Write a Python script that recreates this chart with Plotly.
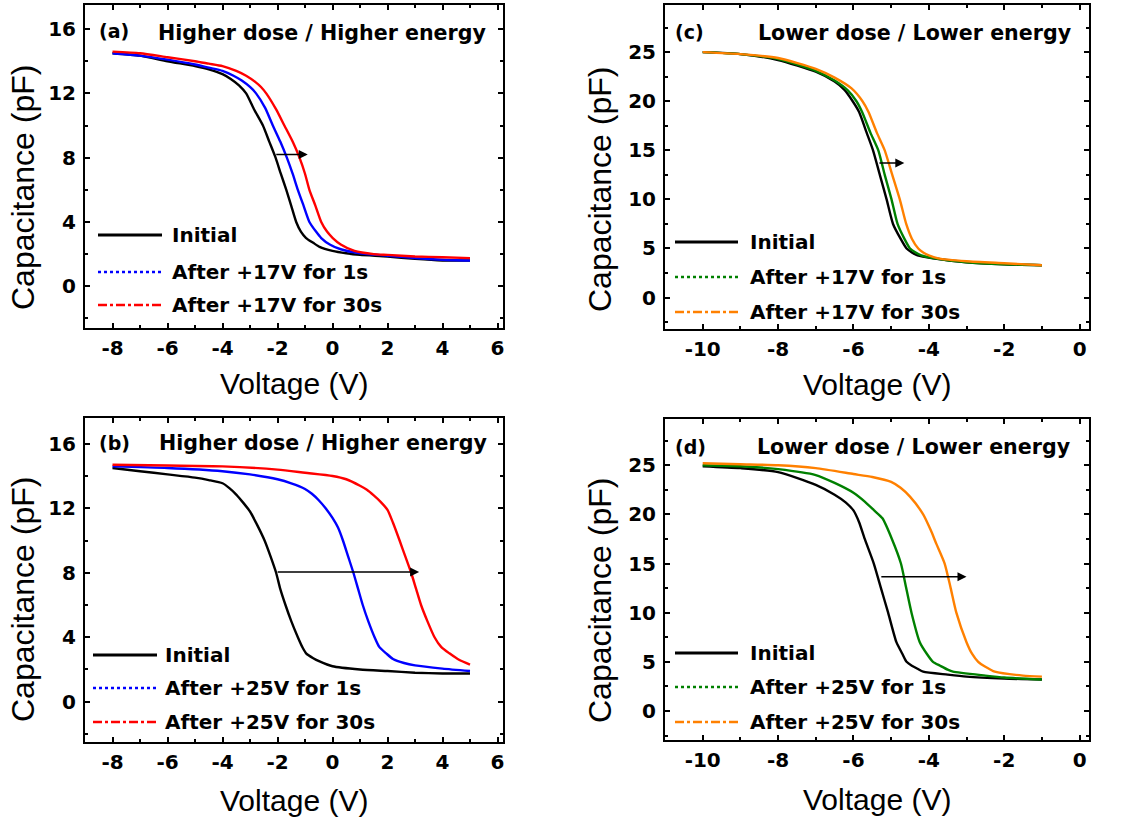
import plotly.graph_objects as go

# ---------------- data ----------------
# Panel (a): Higher dose / Higher energy, +17 V stress
a_init_v = [-8, -7, -6, -5, -4.5, -4, -3.7, -3.4, -3.14, -2.85, -2.53, -2.3, -2.07, -1.88, -1.68, -1.5, -1.32, -1.15, -0.96, -0.7, -0.47, 0, 0.5, 1, 2, 3, 4, 5]
a_init_c = [14.5, 14.35, 14.0, 13.7, 13.5, 13.2, 12.9, 12.5, 12.0, 11.0, 10.0, 9.0, 8.0, 7.0, 6.0, 5.0, 4.0, 3.4, 3.0, 2.7, 2.45, 2.2, 2.05, 1.95, 1.85, 1.7, 1.6, 1.6]
a_1s_v = [-8, -7, -6, -5, -4.5, -4, -3.6, -3.3, -3.0, -2.78, -2.45, -2.17, -1.9, -1.66, -1.45, -1.26, -1.05, -0.84, -0.6, -0.41, -0.1, 0.3, 1, 2, 3, 4, 5]
a_1s_c = [14.5, 14.35, 14.1, 13.8, 13.6, 13.4, 13.1, 12.8, 12.4, 12.0, 11.1, 10.0, 9.0, 8.0, 7.0, 6.0, 5.0, 4.0, 3.4, 3.0, 2.6, 2.3, 2.05, 1.9, 1.75, 1.65, 1.6]
a_30s_v = [-8, -7, -6, -5, -4.5, -4, -3.5, -3.14, -2.8, -2.6, -2.41, -2.05, -1.75, -1.45, -1.2, -1.0, -0.84, -0.62, -0.41, -0.2, 0.01, 0.3, 0.8, 1.5, 2, 3, 4, 5]
a_30s_c = [14.6, 14.5, 14.25, 14.0, 13.85, 13.7, 13.4, 13.1, 12.7, 12.4, 12.0, 11.0, 10.0, 9.0, 8.0, 7.0, 6.0, 5.0, 4.0, 3.4, 3.0, 2.6, 2.2, 2.0, 1.95, 1.85, 1.8, 1.75]

# Panel (b): Higher dose / Higher energy, +25 V stress
b_init_v = [-8, -7, -6, -5, -4.5, -4, -3.75, -3.5, -3.25, -3.0, -2.75, -2.47, -2.25, -2.05, -1.9, -1.71, -1.5, -1.26, -1.1, -0.96, -0.7, -0.47, 0, 1, 2, 3, 4, 5]
b_init_c = [14.5, 14.3, 14.1, 13.9, 13.75, 13.55, 13.25, 12.85, 12.35, 11.8, 11.0, 10.0, 9.0, 8.0, 7.0, 6.0, 5.0, 4.0, 3.4, 3.0, 2.7, 2.5, 2.2, 2.0, 1.9, 1.8, 1.75, 1.75]
b_1s_v = [-8, -6, -4, -3, -2, -1.5, -1, -0.75, -0.5, -0.25, 0, 0.2, 0.38, 0.57, 0.76, 0.93, 1.1, 1.3, 1.53, 1.7, 1.95, 2.2, 2.6, 3, 4, 5]
b_1s_c = [14.6, 14.5, 14.3, 14.1, 13.8, 13.55, 13.2, 12.9, 12.5, 12.0, 11.4, 10.8, 10.0, 9.0, 8.0, 7.0, 6.0, 5.0, 4.0, 3.4, 3.0, 2.65, 2.4, 2.25, 2.05, 1.9]
b_30s_v = [-8, -6, -4, -2, -1, 0, 0.5, 1, 1.25, 1.5, 1.75, 2, 2.2, 2.44, 2.65, 2.86, 3.04, 3.22, 3.45, 3.71, 3.95, 4.25, 4.6, 5]
b_30s_c = [14.7, 14.65, 14.6, 14.4, 14.2, 14.0, 13.8, 13.4, 13.15, 12.8, 12.4, 11.9, 11.1, 10.0, 9.0, 8.0, 7.0, 6.0, 5.0, 4.0, 3.4, 3.0, 2.6, 2.3]

# Panel (c): Lower dose / Lower energy, +17 V stress
c_init_v = [-10, -9, -8, -7, -6.5, -6.25, -6.02, -5.85, -5.65, -5.48, -5.3, -5.12, -4.95, -4.75, -4.59, -4.45, -4.3, -3.89, -3, -2, -1]
c_init_c = [25.0, 24.8, 24.2, 23.0, 22.0, 21.2, 20.0, 18.9, 16.8, 15.0, 12.5, 10.0, 7.5, 6.0, 5.0, 4.6, 4.3, 4.0, 3.6, 3.4, 3.3]
c_1s_v = [-10, -9, -8, -7, -6.5, -6.15, -5.92, -5.77, -5.55, -5.34, -5.17, -4.99, -4.83, -4.65, -4.5, -4.35, -4.2, -3.85, -3, -2, -1]
c_1s_c = [25.0, 24.8, 24.3, 23.1, 22.1, 21.1, 20.0, 18.9, 16.8, 15.0, 12.5, 10.0, 7.5, 6.0, 5.0, 4.6, 4.3, 4.0, 3.6, 3.4, 3.3]
c_30s_v = [-10, -9, -8, -7, -6.5, -6.05, -5.76, -5.6, -5.38, -5.17, -4.97, -4.77, -4.6, -4.45, -4.28, -4.15, -4.0, -3.75, -3, -2, -1]
c_30s_c = [25.0, 24.8, 24.4, 23.3, 22.4, 21.3, 20.0, 18.9, 16.8, 15.0, 12.5, 10.0, 7.5, 6.0, 5.0, 4.6, 4.3, 4.0, 3.7, 3.5, 3.3]

# Panel (d): Lower dose / Lower energy, +25 V stress
d_init_v = [-10, -9, -8, -7, -6.5, -6.2, -6, -5.85, -5.7, -5.46, -5.27, -5.08, -4.86, -4.7, -4.59, -4.45, -4.3, -4.15, -3.5, -3, -2, -1]
d_init_c = [24.9, 24.7, 24.3, 23.0, 22.0, 21.2, 20.4, 19.2, 17.5, 15.0, 12.5, 10.0, 7.0, 5.8, 5.0, 4.6, 4.3, 4.0, 3.7, 3.5, 3.3, 3.2]
d_1s_v = [-10, -9, -8, -7, -6.5, -6, -5.7, -5.45, -5.23, -4.98, -4.74, -4.6, -4.46, -4.24, -4.05, -3.89, -3.7, -3.5, -3.36, -2.5, -2, -1]
d_1s_c = [25.0, 24.9, 24.6, 24.0, 23.2, 22.2, 21.3, 20.4, 19.6, 17.5, 15.0, 12.5, 10.0, 7.0, 5.8, 5.0, 4.6, 4.2, 4.0, 3.6, 3.4, 3.2]
d_30s_v = [-10, -9, -8, -7, -6, -5.5, -5, -4.75, -4.5, -4.15, -3.95, -3.8, -3.58, -3.42, -3.27, -3.0, -2.85, -2.69, -2.5, -2.25, -1.5, -1]
d_30s_c = [25.2, 25.1, 25.0, 24.7, 24.1, 23.8, 23.3, 22.7, 21.8, 20.0, 18.4, 17.0, 15.0, 12.5, 10.0, 7.0, 5.8, 5.0, 4.5, 4.0, 3.6, 3.5]

# shift arrows: [x_start, x_end, y]
arrow_a = [-2.1, -0.9, 8.2]
arrow_b = [-2.05, 3.15, 8.05]
arrow_c = [-5.35, -4.65, 13.7]
arrow_d = [-5.3, -3.0, 13.65]

# tick labels
hd_x_ticks = [-8, -6, -4, -2, 0, 2, 4, 6]
hd_x_text = ["-8", "-6", "-4", "-2", "0", "2", "4", "6"]
hd_y_ticks = [0, 4, 8, 12, 16]
hd_y_text = ["0", "4", "8", "12", "16"]
ld_x_ticks = [-10, -8, -6, -4, -2, 0]
ld_x_text = ["-10", "-8", "-6", "-4", "-2", "0"]
ld_y_ticks = [0, 5, 10, 15, 20, 25]
ld_y_text = ["0", "5", "10", "15", "20", "25"]

legend_17 = ["Initial", "After +17V for 1s", "After +17V for 30s"]
legend_25 = ["Initial", "After +25V for 1s", "After +25V for 30s"]

# ---------------- layout helpers ----------------
W, H = 1133, 822
BOLD = "DejaVu Sans"
REG = "Liberation Sans, Arial, sans-serif"


def px(x):
    return x / W


def py(y):
    return 1 - y / H


fig = go.Figure()
shapes = []
annotations = []

panels = [
    dict(k="", label="(a)", title="Higher dose / Higher energy",
         curves=[(a_init_v, a_init_c), (a_1s_v, a_1s_c), (a_30s_v, a_30s_c)],
         colors=["#000000", "#0000ff", "#ff0000"], legend=legend_17, arrow=arrow_a,
         xdom=[85, 503], ydom=[5, 328], xr=[-9, 6.2], yr=[-2.6, 17.5],
         xt=(hd_x_ticks, hd_x_text), yt=(hd_y_ticks, hd_y_text), xminor=1, yminor=2,
         lab_xy=(97, 31), title_xy=(488, 33),
         leg_x=(98, 162, 170), leg_y=[235, 272, 305],
         ytitle_xy=(23, 188), xtitle_xy=(294, 383)),
    dict(k="3", label="(b)", title="Higher dose / Higher energy",
         curves=[(b_init_v, b_init_c), (b_1s_v, b_1s_c), (b_30s_v, b_30s_c)],
         colors=["#000000", "#0000ff", "#ff0000"], legend=legend_25, arrow=arrow_b,
         xdom=[85, 503], ydom=[418, 742], xr=[-9, 6.2], yr=[-2.5, 17.6],
         xt=(hd_x_ticks, hd_x_text), yt=(hd_y_ticks, hd_y_text), xminor=1, yminor=2,
         lab_xy=(97, 443), title_xy=(489, 443),
         leg_x=(93, 157, 163), leg_y=[655, 688, 722],
         ytitle_xy=(23, 600), xtitle_xy=(294, 800)),
    dict(k="2", label="(c)", title="Lower dose / Lower energy",
         curves=[(c_init_v, c_init_c), (c_1s_v, c_1s_c), (c_30s_v, c_30s_c)],
         colors=["#000000", "#008000", "#ff8000"], legend=legend_17, arrow=arrow_c,
         xdom=[665, 1089], ydom=[5, 329], xr=[-11, 0.25], yr=[-3.2, 29.8],
         xt=(ld_x_ticks, ld_x_text), yt=(ld_y_ticks, ld_y_text), xminor=1, yminor=2.5,
         lab_xy=(673, 32), title_xy=(1074, 33),
         leg_x=(675, 738, 748), leg_y=[242, 277, 312],
         ytitle_xy=(600, 190), xtitle_xy=(877, 385)),
    dict(k="4", label="(d)", title="Lower dose / Lower energy",
         curves=[(d_init_v, d_init_c), (d_1s_v, d_1s_c), (d_30s_v, d_30s_c)],
         colors=["#000000", "#008000", "#ff8000"], legend=legend_25, arrow=arrow_d,
         xdom=[665, 1089], ydom=[419, 740], xr=[-11, 0.25], yr=[-2.95, 29.7],
         xt=(ld_x_ticks, ld_x_text), yt=(ld_y_ticks, ld_y_text), xminor=1, yminor=2.5,
         lab_xy=(673, 447), title_xy=(1073, 447),
         leg_x=(675, 738, 748), leg_y=[653, 687, 722],
         ytitle_xy=(600, 601), xtitle_xy=(877, 799)),
]

dashes = ["solid", "dot", "dashdot"]

for p in panels:
    k = p["k"]
    xa, ya = "x" + k, "y" + k
    for (v, c), col in zip(p["curves"], p["colors"]):
        fig.add_trace(go.Scatter(x=v, y=c, mode="lines", xaxis=xa, yaxis=ya,
                                 line=dict(color=col, width=2.4, shape="spline", smoothing=0.6),
                                 showlegend=False, hoverinfo="skip"))
    axis_common = dict(showline=True, linewidth=2, linecolor="black", mirror="ticks",
                       ticks="inside", ticklen=5, tickwidth=1.5, tickcolor="black",
                       showgrid=False, zeroline=False,
                       tickfont=dict(family=BOLD, size=20, color="black", weight="bold"))
    fig.layout["xaxis" + k] = dict(
        axis_common, domain=[px(p["xdom"][0]), px(p["xdom"][1])], range=p["xr"],
        anchor=ya, tickmode="array", tickvals=p["xt"][0], ticktext=p["xt"][1],
        ticklabelstandoff=1,
        minor=dict(ticks="inside", ticklen=3, tickwidth=1.5, tickcolor="black",
                   dtick=p["xminor"], tick0=0, showgrid=False))
    fig.layout["yaxis" + k] = dict(
        axis_common, domain=[py(p["ydom"][1]), py(p["ydom"][0])], range=p["yr"],
        anchor=xa, tickmode="array", tickvals=p["yt"][0], ticktext=p["yt"][1],
        ticklabelstandoff=3,
        minor=dict(ticks="inside", ticklen=3, tickwidth=1.5, tickcolor="black",
                   dtick=p["yminor"], tick0=0, showgrid=False))

    # panel label and title
    annotations.append(dict(text=p["label"], x=px(p["lab_xy"][0]), y=py(p["lab_xy"][1]),
                            xref="paper", yref="paper", xanchor="left", yanchor="middle",
                            showarrow=False,
                            font=dict(family=BOLD, size=19, color="black", weight="bold")))
    annotations.append(dict(text=p["title"], x=px(p["title_xy"][0]), y=py(p["title_xy"][1]),
                            xref="paper", yref="paper", xanchor="right", yanchor="middle",
                            showarrow=False,
                            font=dict(family=BOLD, size=20.6, color="black", weight="bold")))
    # legend
    x0, x1, xt = p["leg_x"]
    for txt, col, dsh, yy in zip(p["legend"], p["colors"], dashes, p["leg_y"]):
        shapes.append(dict(type="line", xref="paper", yref="paper",
                           x0=px(x0), x1=px(x1), y0=py(yy), y1=py(yy),
                           line=dict(color=col, width=3 if dsh == "solid" else 2.5, dash=dsh)))
        annotations.append(dict(text=txt, x=px(xt), y=py(yy), xref="paper", yref="paper",
                                xanchor="left", yanchor="middle", showarrow=False,
                                font=dict(family=BOLD, size=20, color="black", weight="bold")))
    # arrow
    ax0, ax1, ay = p["arrow"]
    annotations.append(dict(x=ax1, y=ay, ax=ax0, ay=ay, xref=xa, yref=ya, axref=xa, ayref=ya,
                            text="", showarrow=True, arrowhead=2, arrowsize=1.2,
                            arrowwidth=1.5, arrowcolor="black"))
    # axis titles
    annotations.append(dict(text="Capacitance (pF)", x=px(p["ytitle_xy"][0]), y=py(p["ytitle_xy"][1]),
                            xref="paper", yref="paper", xanchor="center", yanchor="middle",
                            textangle=-90, showarrow=False,
                            font=dict(family=REG, size=32, color="black")))
    annotations.append(dict(text="Voltage (V)", x=px(p["xtitle_xy"][0]), y=py(p["xtitle_xy"][1]),
                            xref="paper", yref="paper", xanchor="center", yanchor="middle",
                            showarrow=False,
                            font=dict(family=REG, size=30, color="black")))

fig.update_layout(width=W, height=H, margin=dict(l=0, r=0, t=0, b=0),
                  paper_bgcolor="white", plot_bgcolor="white",
                  shapes=shapes, annotations=annotations, showlegend=False)

fig.write_html("out.html")
